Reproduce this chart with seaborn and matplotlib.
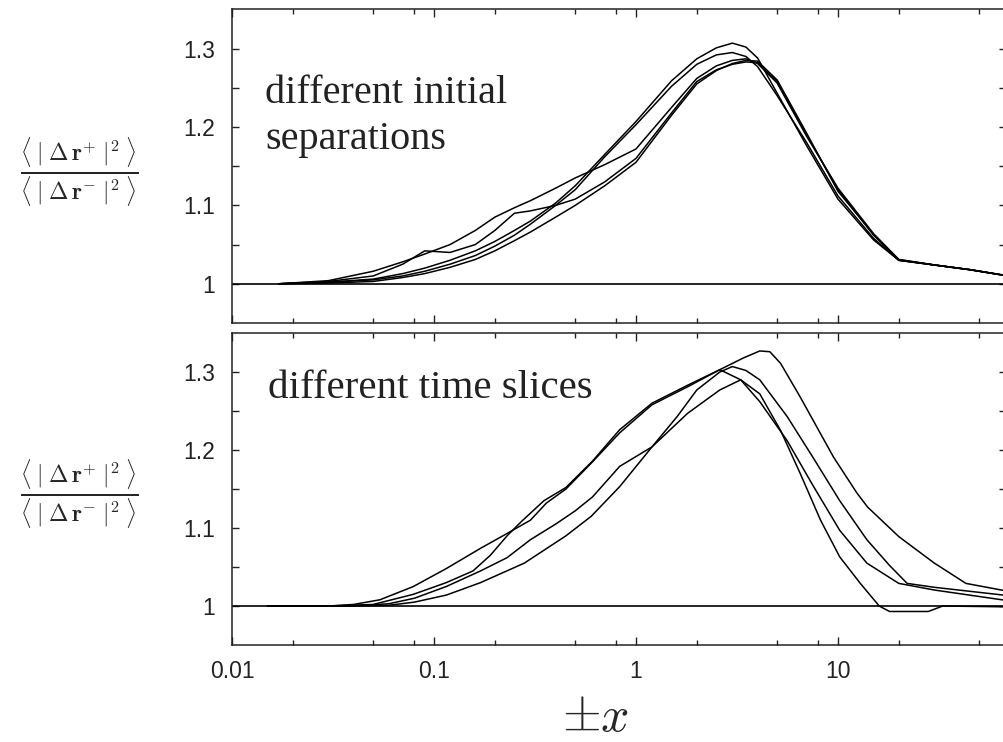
"""Separation-ratio curves: two stacked log-x panels, black lines only."""

import numpy as np
import pandas as pd
import seaborn as sns
import matplotlib
matplotlib.use('Agg')
import matplotlib.pyplot as plt
from matplotlib.ticker import FixedLocator, FuncFormatter

# ── Data ──────────────────────────────────────────────────────────────────────

# top panel: different initial separations, all on one x grid
SEP_X = [0.017, 0.03, 0.05, 0.07, 0.09, 0.12, 0.16, 0.2, 0.25, 0.3, 0.4, 0.5,
         0.7, 1, 1.5, 2, 2.5, 3, 3.5, 4, 5, 7, 10, 15, 20, 30, 45, 66]
SEP_1 = [1.0, 1.004, 1.016, 1.028, 1.038, 1.050, 1.068, 1.085, 1.097, 1.106,
         1.122, 1.135, 1.152, 1.172, 1.225, 1.262, 1.278, 1.285, 1.287, 1.281,
         1.256, 1.188, 1.122, 1.064, 1.031, 1.024, 1.018, 1.011]
SEP_2 = [1.0, 1.003, 1.010, 1.025, 1.042, 1.040, 1.050, 1.068, 1.090, 1.093,
         1.100, 1.108, 1.130, 1.160, 1.218, 1.258, 1.273, 1.280, 1.283, 1.282,
         1.258, 1.190, 1.120, 1.062, 1.030, 1.024, 1.018, 1.011]
SEP_3 = [1.0, 1.002, 1.006, 1.013, 1.020, 1.030, 1.042, 1.054, 1.068, 1.080,
         1.103, 1.125, 1.165, 1.207, 1.259, 1.287, 1.301, 1.307, 1.302, 1.288,
         1.243, 1.176, 1.108, 1.056, 1.030, 1.024, 1.018, 1.011]
SEP_4 = [1.0, 1.002, 1.005, 1.010, 1.016, 1.025, 1.036, 1.048, 1.062, 1.076,
         1.100, 1.120, 1.162, 1.203, 1.252, 1.280, 1.292, 1.295, 1.290, 1.277,
         1.240, 1.180, 1.112, 1.058, 1.030, 1.024, 1.018, 1.011]
SEP_5 = [1.0, 1.001, 1.003, 1.008, 1.013, 1.021, 1.031, 1.042, 1.055, 1.066,
         1.085, 1.100, 1.125, 1.155, 1.215, 1.255, 1.272, 1.281, 1.285, 1.284,
         1.260, 1.192, 1.118, 1.063, 1.031, 1.024, 1.018, 1.011]

# bottom panel: different time slices, each on its own x grid
T1_X = [0.015, 0.04, 0.06, 0.08, 0.115, 0.17, 0.23, 0.3, 0.4, 0.5, 0.61, 0.83,
        1.2, 1.8, 2.6, 3.3, 4.1, 5.2, 6.5, 8.2, 10.2, 12.9, 16, 18, 28, 33, 66]
T1_Y = [1.0, 1.0, 1.003, 1.010, 1.025, 1.045, 1.062, 1.085, 1.105, 1.122, 1.140,
        1.179, 1.204, 1.247, 1.277, 1.290, 1.272, 1.225, 1.170, 1.110, 1.063,
        1.029, 1.0, 0.993, 0.993, 1.0, 0.999]
T2_X = [0.015, 0.03, 0.05, 0.079, 0.115, 0.156, 0.19, 0.23, 0.27, 0.35, 0.45,
        0.61, 0.83, 1.2, 1.8, 2.6, 3.3, 4.1, 5.6, 7.5, 10.2, 13.9, 20, 30, 66]
T2_Y = [1.0, 1.0, 1.002, 1.015, 1.030, 1.045, 1.065, 1.090, 1.108, 1.135, 1.152,
        1.186, 1.226, 1.260, 1.283, 1.303, 1.290, 1.262, 1.212, 1.155, 1.097,
        1.055, 1.029, 1.0205, 1.0077]
T3_X = [0.015, 0.04, 0.06, 0.08, 0.115, 0.17, 0.28, 0.45, 0.6, 0.83, 1.2, 1.6,
        2.0, 2.6, 3.0, 3.5, 4.1, 5.6, 7.5, 10.2, 13.9, 18, 22, 30, 66]
T3_Y = [1.0, 1.0, 1.001, 1.005, 1.014, 1.030, 1.055, 1.090, 1.115, 1.153, 1.204,
        1.243, 1.277, 1.300, 1.307, 1.302, 1.290, 1.243, 1.191, 1.135, 1.085,
        1.052, 1.029, 1.024, 1.014]
T4_X = [0.015, 0.03, 0.04, 0.054, 0.079, 0.115, 0.17, 0.23, 0.3, 0.36, 0.45,
        0.61, 0.83, 1.2, 1.8, 2.6, 3.4, 4.1, 4.6, 5.2, 6.5, 9.5, 12.4, 14, 20,
        30, 43, 66]
T4_Y = [1.0, 1.0, 1.002, 1.008, 1.025, 1.048, 1.074, 1.093, 1.110, 1.132, 1.150,
        1.185, 1.222, 1.258, 1.281, 1.303, 1.318, 1.327, 1.326, 1.311, 1.268,
        1.191, 1.145, 1.127, 1.089, 1.055, 1.029, 1.020]

XTICKS = [0.01, 0.1, 1, 10]
YTICKS = [1.0, 1.1, 1.2, 1.3]
TOP_TEXT = 'different initial\nseparations'
BOTTOM_TEXT = 'different time slices'
YLABEL = (r'$\frac{\langle\;|\;\Delta\,\mathbf{r}^{+}\;|^{2}\;\rangle}'
          r'{\langle\;|\;\Delta\,\mathbf{r}^{-}\;|^{2}\;\rangle}$')
XLABEL = r'$\pm x$'


def long_form(curves):
    frames = [pd.DataFrame({'x': xs, 'y': ys, 'run': name})
              for name, (xs, ys) in curves.items()]
    return pd.concat(frames, ignore_index=True)


top_df = long_form({f's{i}': (SEP_X, ys) for i, ys in
                    enumerate([SEP_1, SEP_2, SEP_3, SEP_4, SEP_5])})
bot_df = long_form({'t1': (T1_X, T1_Y), 't2': (T2_X, T2_Y),
                    't3': (T3_X, T3_Y), 't4': (T4_X, T4_Y)})

# ── Style ─────────────────────────────────────────────────────────────────────

sns.set_theme(style='ticks')
plt.rcParams.update({
    'font.family': ['Liberation Sans', 'DejaVu Sans'],
    'mathtext.fontset': 'cm',
    'axes.edgecolor': '#222222',
    'axes.linewidth': 1.1,
    'xtick.direction': 'in',
    'ytick.direction': 'in',
    'xtick.top': True,
    'ytick.right': True,
    'xtick.color': '#222222',
    'ytick.color': '#222222',
})

fig = plt.figure(figsize=(10.04, 7.42), dpi=100)
ax_top = fig.add_axes([0.2311, 0.5647, 0.7709, 0.4226])
ax_bot = fig.add_axes([0.2311, 0.1307, 0.7709, 0.4205])

for ax, df in ((ax_top, top_df), (ax_bot, bot_df)):
    ax.axhline(1.0, color='black', lw=1.2, zorder=1)
    sns.lineplot(data=df, x='x', y='y', hue='run', estimator=None,
                 palette=['black'] * df['run'].nunique(), lw=1.1,
                 legend=False, ax=ax, zorder=2)
    ax.set_xscale('log')
    ax.set_xlim(0.01, 67.9)
    ax.set_ylim(0.95, 1.35)
    ax.xaxis.set_major_locator(FixedLocator(XTICKS))
    ax.xaxis.set_minor_locator(FixedLocator(
        [m * d for d in XTICKS for m in (2, 5, 8)]))
    ax.yaxis.set_major_locator(FixedLocator(YTICKS))
    ax.yaxis.set_minor_locator(FixedLocator([1.05, 1.15, 1.25]))
    ax.xaxis.set_major_formatter(FuncFormatter(lambda v, _: f'{v:g}'))
    ax.yaxis.set_major_formatter(FuncFormatter(lambda v, _: f'{v:g}'))
    ax.tick_params(axis='x', which='major', length=6, width=1.0,
                   labelsize=16.5, pad=11)
    ax.tick_params(axis='x', which='minor', length=3.5, width=1.0)
    ax.tick_params(axis='y', which='both', length=5, width=1.0,
                   labelsize=16.5, pad=12)
    ax.set_ylabel(YLABEL, rotation=0, fontsize=24, ha='center', va='center')
    ax.yaxis.set_label_coords(-0.197, 0.48)
    ax.set_xlabel('')

ax_top.tick_params(axis='x', which='both', labelbottom=False)

ax_top.text(0.043, 0.79, TOP_TEXT, transform=ax_top.transAxes,
            family='Liberation Serif', fontsize=29, color='#222222',
            ha='left', va='top', linespacing=1.3)
ax_bot.text(0.047, 0.88, BOTTOM_TEXT, transform=ax_bot.transAxes,
            family='Liberation Serif', fontsize=29.5, color='#222222',
            ha='left', va='top')

ax_bot.set_xlabel(XLABEL, fontsize=36, va='center')
ax_bot.xaxis.set_label_coords(0.47, -0.235)

fig.savefig('out.png', dpi=100)
